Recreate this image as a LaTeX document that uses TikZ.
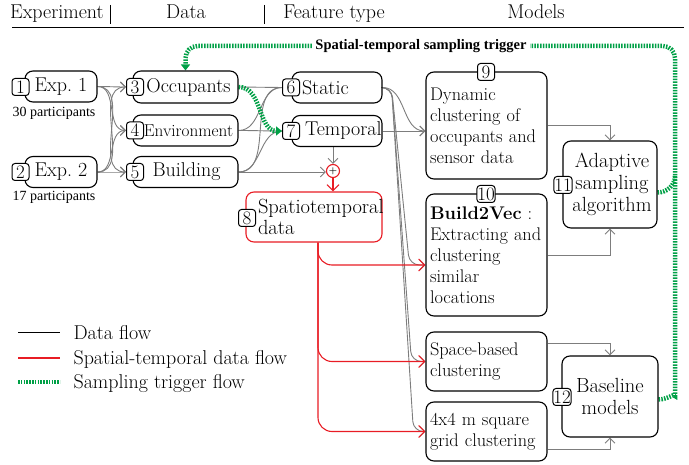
\documentclass[tikz,border=0pt]{standalone}
\usepackage{fontspec}
\newfontfamily\timesf{Liberation Serif}
\usetikzlibrary{arrows.meta}
\definecolor{myred}{RGB}{232,28,36}
\definecolor{mygreen}{RGB}{0,160,70}
\definecolor{mygray}{RGB}{125,125,125}
\pgfdeclarelayer{bg}\pgfsetlayers{bg,main}
\begin{document}
\begin{tikzpicture}[x=1pt,y=-1pt,
 box/.style={draw, line width=1.1pt, rounded corners=8pt, inner sep=0pt, font=\fontsize{20}{22}\selectfont},
 badge/.style={draw, line width=1pt, rounded corners=3pt, fill=white, minimum width=17pt, minimum height=17pt, inner sep=0.3pt, font=\fontsize{19}{19}\selectfont},
 mtext/.style={box, text width=113pt, inner xsep=4pt, align=left, font=\fontsize{18.3}{21}\selectfont},
 flow/.style={draw=mygray, line width=0.9pt, -{Straight Barb[length=5pt,width=10pt]}},
 flown/.style={draw=mygray, line width=0.9pt},
 rflow/.style={draw=myred, line width=1.1pt, -{Straight Barb[length=6pt,width=12pt]}},
 trig/.style={draw=mygreen, line width=4.5pt, dash pattern=on 1.5pt off 1.3pt},
 hdr/.style={font=\fontsize{20}{22}\selectfont, anchor=base},
 legtext/.style={font=\fontsize{20}{22}\selectfont, anchor=base west},
 small/.style={font=\timesf\fontsize{14}{15}\selectfont, anchor=base},
]
\useasboundingbox (0,0) rectangle (689,465);

% header
\node[hdr] (h1) at (57,19) {Experiment};
\node[hdr] (h2) at (186,19) {Data};
\node[hdr] (h3) at (334,19) {Feature type};
\node[hdr] (h4) at (536,19) {Models};
\draw[line width=1pt] (110,5) -- (110,24);
\draw[line width=1pt] (264,5) -- (264,24);
\draw[line width=0.8pt] (12,27) -- (684,27);

% experiment
\node[box, minimum width=72pt, minimum height=31pt] (exp1) at (61,86.5) {Exp.\ 1};
\node[box, minimum width=72pt, minimum height=31pt] (exp2) at (61,172) {Exp.\ 2};
\node[small] (p1) at (54,116.5) {30 participants};
\node[small] (p2) at (54,201) {17 participants};

% data
\node[box, minimum width=105pt, minimum height=32pt] (occ) at (185.5,87) {\hspace*{6pt}Occupants};
\node[box, minimum width=105pt, minimum height=31pt, font=\fontsize{17.2}{19}\selectfont] (env) at (185.5,130.5) {\hspace*{6pt}Environment};
\node[box, minimum width=105pt, minimum height=31pt] (bld) at (185.5,172) {\hspace*{2pt}Building};

% feature type
\node[box, minimum width=90pt, minimum height=31pt, text width=80pt, inner xsep=5pt, align=left] (static) at (337,87.5) {\mbox{\hspace*{5pt}Static}};
\node[box, minimum width=90pt, minimum height=31pt, text width=80pt, inner xsep=5pt, align=left] (temporal) at (337,131) {\mbox{\hspace*{8pt}Temporal}};
\node[circle, draw=myred, line width=1.1pt, minimum size=13pt, inner sep=0pt, font=\bfseries\fontsize{9}{9}\selectfont] (plus) at (333,171) {+};
\node[box, draw=myred, minimum width=136pt, minimum height=50pt, text width=122pt, inner xsep=7pt, align=left, font=\fontsize{20.5}{21}\selectfont] (spt) at (314,217) {\mbox{\hspace*{5pt}Spatiotemporal}\\\mbox{\hspace*{5pt}data}};

% models
\node[mtext, minimum height=107pt] (m9) at (486.5,125.5) {Dynamic\\\mbox{clustering of}\\\mbox{occupants and}\\\mbox{sensor data}};
\node[mtext, minimum height=122pt] (m10) at (486.5,255) {\mbox{\textbf{Build2Vec} :}\\\mbox{Extracting and}\\\mbox{clustering}\\\mbox{similar}\\\mbox{locations}};
\node[box, minimum width=94pt, minimum height=87pt, align=center, font=\fontsize{20.5}{22}\selectfont] (m11) at (610,184.5) {\hspace*{4pt}Adaptive\\\hspace*{4pt}sampling\\\hspace*{4pt}algorithm};
\node[mtext, minimum height=59pt] (space) at (486.5,361.5) {\mbox{Space-based}\\\mbox{clustering}};
\node[mtext, minimum height=59pt] (grid) at (486.5,431.5) {\mbox{4x4 m square}\\\mbox{grid clustering}};
\node[box, minimum width=96pt, minimum height=81pt, align=center, font=\fontsize{20.5}{22}\selectfont] (base) at (610,396.5) {Baseline\\models};

% badges
\node[badge] (b1) at (20.5,87) {1};
\node[badge] (b2) at (20.5,172) {2};
\node[badge] (b3) at (135,87) {3};
\node[badge] (b4) at (135,130.5) {4};
\node[badge] (b5) at (135,172) {5};
\node[badge] (b6) at (291,87.5) {6};
\node[badge] (b7) at (291,131) {7};
\node[badge] (b8) at (247,218) {8};
\node[badge] (b9) at (486,72) {9};
\node[badge] (b10) at (486,194) {10};
\node[badge] (b11) at (563,185) {11};
\node[badge] (b12) at (562,397) {12};

\coordinate (tl) at (185.5,46);
\coordinate (tr) at (675,46);
\coordinate (brb) at (675,384);
\coordinate (brm) at (675,176);

\begin{pgfonlayer}{bg}
\foreach \s in {exp1,exp2}{\foreach \t in {b3,b4,b5}{\draw[flow] (\s.east) to[out=0,in=180] (\t.west);}}
\draw[flown] (occ.east) -- (b6.west);
\draw[flown] (env.east) to[out=0,in=180] (b6.west);
\draw[flown] (env.east) to[out=0,in=180] (b7.west);
\draw[flown] (bld.east) to[out=0,in=180] (b6.west);
\draw[flown] (bld.east) to[out=0,in=180] (b7.west);
\draw[flow] (bld.east) -- (bld.east -| plus.west);
\draw[flow] (temporal.south -| plus) -- (plus.north);
\draw[flow] (static.east) to[out=0,in=180] (m9.west |- temporal.east);
\draw[flow] (temporal.east) -- (m9.west |- temporal.east);
\draw[flow, rounded corners=10pt] (static.east) -- ++(9,0) -- ([xshift=-16pt,yshift=-10pt]m10.west) -- ([yshift=-10pt]m10.west);
\draw[flow, rounded corners=10pt] (static.east) -- ++(9,0) -- ([xshift=-14pt]space.west) -- (space.west);
\draw[flow, rounded corners=10pt] (static.east) -- ++(9,0) -- ([xshift=-12pt]grid.west) -- (grid.west);
\draw[rflow, rounded corners=14pt] ([xshift=4pt]spt.south) |- ([yshift=-10pt]m10.west);
\draw[rflow, rounded corners=14pt] ([xshift=4pt]spt.south) |- (space.west);
\draw[rflow, rounded corners=14pt] ([xshift=4pt]spt.south) |- (grid.west);
\draw[rflow] (plus.south) -- (spt.north -| plus);
\draw[flow] (m9.east) -| (m11.north);
\draw[flow] (m10.east) -| (m11.south);
\draw[flow] ([yshift=18.5pt]space.east) -| (base.north);
\draw[flow] ([yshift=-17.5pt]grid.east) -| (base.south);
\draw[trig, rounded corners=12pt, -{Triangle[length=6pt,width=9pt]}] ([yshift=-3pt]base.east) to[out=0,in=-90] (brb) -- (tr) -- (tl) -- (occ.north);
\draw[trig] ([yshift=-8pt]m11.east) to[out=0,in=-90] (brm);
\draw[trig, -{Triangle[length=6pt,width=9pt]}] (occ.east) to[out=0,in=180] (b7.west);
\end{pgfonlayer}
\node[fill=white, inner xsep=3pt, inner ysep=1pt, font=\timesf\bfseries\fontsize{14.5}{16}\selectfont] (lbl) at (421,46) {Spatial-temporal sampling trigger};

% legend
\coordinate (l1a) at (18,333); \coordinate (l1b) at (60,333);
\coordinate (l2a) at (18,358); \coordinate (l2b) at (60,358);
\coordinate (l3a) at (18,382); \coordinate (l3b) at (60,382);
\draw[line width=1pt] (l1a) -- (l1b);
\draw[draw=myred, line width=1.1pt] (l2a) -- (l2b);
\draw[trig] (l3a) -- (l3b);
\node[legtext] (t1) at (70,340) {Data flow};
\node[legtext] (t2) at (70,365) {Spatial-temporal data flow};
\node[legtext] (t3) at (70,389) {Sampling trigger flow};
\end{tikzpicture}
\end{document}
